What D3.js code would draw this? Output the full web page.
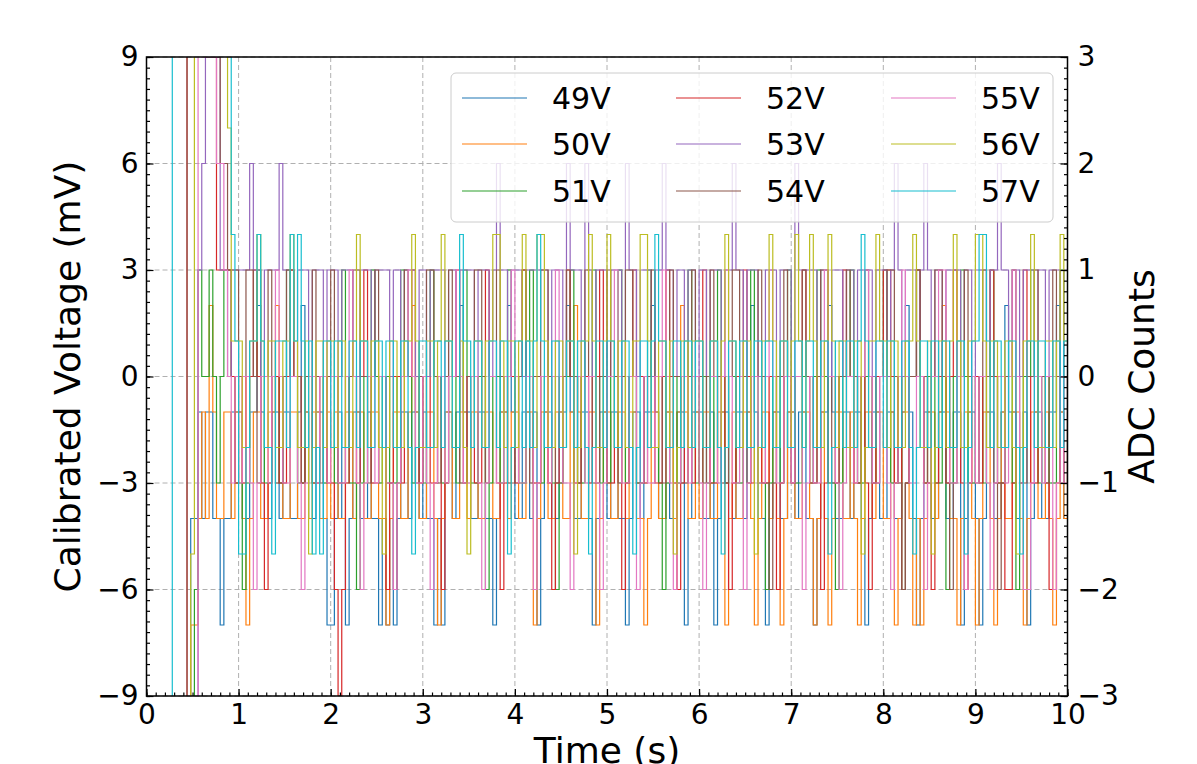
<!DOCTYPE html>
<html>
<head>
<meta charset="utf-8">
<script src="https://cdn.jsdelivr.net/npm/d3@7"></script>
<style>
  body { margin: 0; background: #fff; }
  svg { font-family: "DejaVu Sans", sans-serif; }
</style>
</head>
<body>
<div id="chart"></div>
<script>
// sample spacing of the recording, in seconds
const timeStep = 0.04;

const seriesLabels = ['49V', '50V', '51V', '52V', '53V', '54V', '55V', '56V', '57V'];
const seriesColors = ['#1f77b4', '#ff7f0e', '#2ca02c', '#d62728', '#9467bd',
                      '#8c564b', '#e377c2', '#bcbd22', '#17becf'];
// calibration offset (mV) added to 3 mV per ADC count
const offsetsMv = [-1, -1, 0, 0, 0, 0, 0, 1, 1];

const xTicks = [0, 1, 2, 3, 4, 5, 6, 7, 8, 9, 10];
const yTicksMv = [-9, -6, -3, 0, 3, 6, 9];
const yTicksAdc = [-3, -2, -1, 0, 1, 2, 3];

// ADC counts, one row per second
const adc49V = [
  -9,-9,-9,-9,-9,-9,-9,-9,-9,-9,-9,-9,-1,-1,0,-1,0,0,-1,-1,-2,-1,-1,0,0,
  0,-1,-1,0,0,1,0,-1,-1,0,0,-1,0,0,-1,-1,0,1,0,-1,-1,0,0,-1,-2,
  -2,-1,0,-1,-2,-1,0,0,-1,-1,0,-1,-1,-2,-1,-2,-1,-2,-1,0,0,-1,0,0,-1,
  0,-1,-1,-2,-1,-2,0,0,-1,0,1,0,0,-1,-1,0,0,-1,-1,-2,-1,0,0,1,0,
  -1,-1,0,0,-1,0,-2,-1,0,0,-1,-1,0,0,1,0,-1,-1,0,0,-1,-2,-1,0,0,
  -1,0,0,-1,-1,-2,-1,0,0,-1,0,0,1,0,-1,-1,0,-1,-1,0,0,-2,-1,0,0,
  0,-1,-1,0,-2,-1,0,0,-1,-1,0,0,-1,0,1,0,-1,-1,-2,-1,0,0,-1,-1,0,
  0,-1,0,0,-1,-1,-2,-1,0,0,1,0,-1,-1,0,0,-1,0,0,-1,-2,-1,0,0,-1,
  -1,0,0,-1,-1,0,1,0,-1,-2,-1,0,0,-1,-1,0,0,-1,-1,0,0,-2,-1,0,0,
  -1,-2,-1,0,0,-1,-1,0,1,0,0,-1,-1,0,-2,-1,0,0,-1,-1,0,0,1,0,-1,
  -1
];
const adc50V = [
  -9,-9,-9,-9,-9,-9,-9,-9,-9,-9,-9,-9,-2,-2,-1,0,-1,1,0,-1,-1,0,0,-1,0,
  0,-1,-2,-1,0,0,-1,-1,0,0,1,0,-1,-1,0,0,-1,-1,0,-1,0,0,-1,-1,0,
  -1,0,-1,-1,0,0,-1,0,0,-1,-1,0,0,-1,-1,-2,-1,0,0,-1,-1,0,1,0,-1,
  -1,0,0,-1,-2,-1,0,0,-1,-1,0,0,-1,0,0,-1,-1,0,0,-1,-1,0,0,-1,0,
  0,-1,-1,0,0,-2,-1,0,0,-1,-1,0,0,-1,-1,0,1,0,-1,-1,0,0,-2,-1,0,
  0,-1,-1,0,0,-1,0,0,-1,-1,-2,-1,0,0,-1,-1,0,0,-1,0,1,0,-1,-1,0,
  -1,0,0,-1,-1,0,0,-2,-1,0,-1,-1,0,0,-1,-2,-1,0,0,-1,0,-1,-2,-1,0,
  0,-1,-1,0,0,-1,-2,-1,0,-1,-2,-1,0,0,-1,-1,0,-1,-2,-1,0,0,-1,0,0,
  -1,-1,0,-2,-1,0,0,-1,-2,-1,-2,-1,0,0,-1,0,1,0,-1,-1,-2,-1,0,0,-1,
  -2,-1,0,0,-1,-2,-1,0,-1,-1,0,0,-1,-2,-1,0,0,-1,-1,0,-1,-2,-1,0,-1,
  0
];
const adc51V = [
  -9,-9,-9,-9,-9,-9,-9,-9,-9,-9,-9,-9,-9,-2,1,0,0,1,0,-1,0,1,1,0,-1,
  -1,-2,-1,0,0,1,0,-1,-1,0,0,-1,0,1,0,0,-1,-1,0,0,-1,0,0,-1,0,
  0,-1,0,1,0,-1,-1,-2,-1,0,0,1,0,-1,0,0,-1,-1,0,1,0,0,-1,0,0,
  -1,0,1,0,0,-1,-1,0,0,-1,0,1,0,-1,-1,0,0,-2,-1,0,0,-1,0,1,0,
  0,-1,-1,0,1,0,0,-1,0,0,-1,-2,-1,0,0,1,0,-1,-1,0,0,1,0,-1,0,
  -1,0,0,1,0,-1,0,0,-1,-1,0,1,0,0,-1,-2,-1,0,0,-1,0,0,1,0,-1,
  0,0,-1,-1,0,1,0,-1,0,0,-1,-1,0,0,1,0,-1,-1,-2,-1,0,0,-1,0,1,
  0,-1,-1,0,0,-1,0,1,0,0,-1,-1,-2,-1,0,0,1,0,-1,-1,0,0,-1,0,0,
  1,0,-1,-1,0,-2,-1,0,0,1,0,-1,0,0,-1,-1,0,-2,-1,0,0,1,0,-1,-1,
  0,0,-1,0,1,0,-1,-1,0,0,-1,-2,-1,0,0,1,0,-1,0,0,-1,-1,0,1,0,
  -1
];
const adc52V = [
  -9,-9,-9,-9,-9,-9,-9,-9,-9,-9,-9,9,9,9,9,9,9,9,3,1,1,1,1,0,-1,
  0,-1,0,0,1,0,-1,-2,-1,0,0,-1,-1,0,1,0,0,-1,0,0,-1,-1,0,0,-1,
  -1,-2,-3,-2,-1,0,0,-1,0,1,0,-1,-1,0,0,-2,-1,0,0,-1,0,0,1,0,-1,
  0,0,-1,-1,0,-2,-1,0,0,1,0,-1,0,0,-1,-1,0,1,0,0,-1,-2,-1,0,0,
  -1,0,1,0,0,-1,-1,0,0,-1,-2,-1,0,0,1,0,-1,-1,0,0,-1,0,0,1,0,
  -1,-1,0,0,-2,-1,0,1,0,0,-1,0,0,-1,-1,0,1,0,-1,-2,-1,0,0,-1,0,
  0,1,0,-1,-1,0,0,-1,-2,-1,0,0,1,0,-1,0,0,-1,-1,0,0,-2,-1,0,0,
  -1,0,0,1,0,-1,-1,0,-2,-1,0,0,-1,0,1,0,0,-1,-1,0,-1,-2,-1,0,0,
  1,1,0,-1,0,-2,-1,0,0,1,0,-1,-1,-2,-1,0,0,-1,0,1,0,-1,-2,-1,0,
  0,-1,0,0,1,0,-1,-1,-2,-2,-1,0,0,1,0,-1,-1,0,0,-1,-2,-2,-1,0,0,
  -1
];
const adc53V = [
  -9,-9,-9,-9,-9,-9,-9,-9,-9,-9,-9,-9,-9,-9,1,2,3,3,3,3,1,1,0,1,1,
  1,1,1,2,1,1,0,1,1,1,1,2,1,1,0,0,1,1,1,0,1,1,1,0,1,
  1,1,0,1,1,1,0,0,1,1,1,0,1,1,1,1,0,1,1,0,1,1,1,0,1,
  1,0,1,1,1,1,0,1,1,0,1,1,1,1,0,1,1,1,0,1,2,1,1,0,1,
  1,1,0,1,1,1,1,1,1,0,1,1,1,0,2,1,1,1,0,2,1,0,1,1,1,
  0,1,1,1,0,2,1,1,0,1,1,1,0,1,1,2,1,1,0,1,1,0,1,1,0,
  1,1,0,1,1,1,0,1,1,2,1,1,0,1,1,1,0,0,1,1,1,0,1,1,1,
  0,2,1,1,1,1,1,0,1,1,0,1,1,1,0,1,1,0,1,1,1,1,0,1,1,
  1,0,1,2,1,0,1,1,1,0,1,2,1,0,1,1,0,1,1,1,1,0,1,1,0,
  1,1,1,0,1,1,2,1,1,0,1,1,0,1,1,1,0,1,1,0,1,1,1,0,1,
  1
];
const adc54V = [
  -9,-9,-9,-9,-9,-9,-9,-9,-9,-9,-9,9,9,9,9,9,3,3,3,3,2,2,1,1,1,
  0,0,1,1,0,-1,0,0,1,0,-1,-1,0,1,1,0,0,-1,0,0,1,0,-1,0,0,
  1,0,-1,-1,0,0,1,1,0,0,-1,0,1,0,0,-1,-1,-2,-1,0,1,0,0,-1,0,
  0,1,1,0,-1,0,0,1,0,0,-1,-1,0,0,1,1,0,-1,0,0,1,0,0,-1,-1,
  0,0,1,0,-1,0,0,1,1,0,0,-1,-1,0,1,0,0,-1,0,1,0,-1,-1,0,0,
  1,0,0,-1,0,1,1,0,-1,-1,0,0,1,0,0,-1,0,1,0,0,-1,-1,0,1,0,
  0,-1,0,1,0,0,-1,-1,0,1,1,0,0,-1,0,0,1,0,-1,-2,-1,0,0,1,0,
  -1,0,0,1,0,0,-1,0,1,1,0,-1,-1,0,0,1,0,0,-1,0,1,0,-1,-1,0,
  0,1,1,0,-1,-2,-1,0,0,1,0,0,-1,0,1,1,0,-1,-2,-1,0,0,1,0,0,
  -1,0,1,0,0,-1,-2,-1,0,0,1,0,-1,-1,0,0,1,0,0,-1,0,1,0,-1,0,
  0
];
const adc55V = [
  -9,-9,-9,-9,-9,-9,-9,-9,-9,-9,-9,-9,-9,-9,9,3,3,3,3,2,2,1,0,-1,0,
  -1,0,0,-1,-2,-1,0,0,-1,0,1,0,-1,-1,0,0,-1,-2,-1,0,0,-1,0,0,-1,
  0,0,-1,-1,0,1,0,-1,-2,-1,0,0,-1,0,0,-1,-1,-2,-1,0,0,1,0,-1,-1,
  0,-1,-2,-1,0,0,-1,0,0,1,0,-1,-1,0,0,-1,-2,-1,0,0,-1,-1,0,0,1,
  0,-1,-1,0,0,-2,-1,0,0,-1,0,1,0,-1,-1,-2,-1,0,0,-1,0,0,-1,-2,-1,
  0,0,1,0,-1,-1,0,0,-2,-1,0,-1,-1,0,0,1,0,-1,-2,-1,0,0,-1,0,0,
  -1,-2,-1,0,0,-1,0,1,0,-1,-1,0,-2,-1,0,0,-1,-1,0,1,0,-1,-1,0,0,
  -1,0,0,-2,-1,0,-1,-1,0,1,0,0,-1,-2,-1,0,0,-1,0,0,1,0,-1,-1,0,
  0,-1,-2,-1,0,1,0,-1,-1,0,0,-2,-1,0,0,1,1,0,-1,-1,0,0,-2,-1,0,
  -1,0,0,-1,-2,-1,0,0,-1,0,1,0,-1,-2,-2,-1,0,0,-1,0,0,-2,-1,0,-1,
  0
];
const adc56V = [
  -9,-9,-9,-9,-9,-9,-9,-9,-9,-9,-9,-9,-2,9,9,9,9,9,9,9,9,9,2,0,0,
  0,-1,-1,0,0,1,0,-1,0,0,-1,-1,0,0,1,0,-1,-1,0,-2,-1,0,0,-1,0,
  0,-1,0,0,-1,-1,0,1,0,0,-1,0,0,-1,-2,-1,0,0,-1,-1,0,0,1,0,-1,
  -1,0,0,-1,0,1,0,0,-1,-1,0,-1,-2,-1,0,0,-1,0,0,1,1,0,-1,0,0,
  -1,0,1,0,0,-1,1,1,0,-1,-1,0,0,-1,0,0,-2,-1,0,0,1,0,-1,-1,0,
  1,0,-1,0,0,-1,-1,0,0,1,1,0,-1,-1,0,0,-1,0,-2,-1,0,0,-1,0,0,
  0,-1,-1,0,0,-1,0,1,0,0,-1,-1,0,0,-1,-2,-1,0,0,1,0,-1,0,0,-1,
  0,1,0,-1,0,1,0,-1,-1,0,1,0,-1,0,0,-1,-1,0,0,-2,-1,0,0,1,0,
  0,-1,0,0,-1,-1,0,0,1,0,-1,-1,0,-2,-1,0,0,-1,0,1,0,-1,-1,0,0,
  1,1,0,-1,0,0,-1,-1,0,0,-1,-2,-1,0,0,1,0,-1,-1,0,0,-1,0,1,0,
  0
];
const adc57V = [
  -9,-9,-9,-9,-9,-9,-9,9,9,9,9,9,9,9,9,9,9,9,9,9,9,9,9,1,0,
  -2,-2,-1,0,0,1,0,-1,-1,-2,0,0,0,-1,1,0,1,0,-1,0,-2,-1,-2,0,0,
  -1,0,0,-1,-1,0,0,-1,0,0,-1,-1,0,0,-1,0,0,-1,-1,0,0,-1,-2,-1,0,
  0,-1,-1,0,0,-1,0,0,-1,-1,1,0,0,-1,0,0,-1,-1,0,0,-1,0,0,-2,-1,
  0,0,-1,0,-1,0,1,0,-1,-1,0,0,-1,-1,0,0,-1,0,0,-1,-2,-1,0,0,-1,
  0,0,-1,-1,0,0,-1,-2,-1,0,0,-1,0,1,0,0,-1,-1,0,0,-1,0,0,-1,0,
  0,-1,-1,0,0,-1,-2,-1,0,0,-1,0,0,-1,-1,0,0,-1,0,0,-1,-1,0,0,-1,
  -1,0,0,-1,0,0,-1,-1,0,0,-2,-1,0,0,-1,0,0,-1,0,1,0,-1,-1,0,0,
  -1,0,0,-1,-1,0,0,-1,-2,-1,0,0,-1,0,0,-1,0,0,-1,-1,0,0,-2,-1,0,
  0,1,1,0,-1,0,0,-1,-1,0,0,-1,-2,-1,0,0,-1,0,0,-1,-1,0,0,-1,0,
  0
];
const adcSeries = [adc49V, adc50V, adc51V, adc52V, adc53V, adc54V, adc55V, adc56V, adc57V];

const width = 1197, height = 764;
const plotLeft = 146.5, plotRight = 1067.5, plotTop = 57, plotBottom = 696;
const tickFont = 28, labelFont = 36, legendFont = 30;

const svg = d3.select('#chart').append('svg')
  .attr('width', width)
  .attr('height', height);

const x = d3.scaleLinear().domain([0, 10]).range([plotLeft, plotRight]);
const y = d3.scaleLinear().domain([-9, 9]).range([plotBottom, plotTop]);
const yAdc = d3.scaleLinear().domain([-3, 3]).range([plotBottom, plotTop]);

svg.append('clipPath').attr('id', 'plot-clip')
  .append('rect')
  .attr('x', plotLeft).attr('y', plotTop)
  .attr('width', plotRight - plotLeft).attr('height', plotBottom - plotTop);

// grid
const grid = svg.append('g').attr('stroke', '#b0b0b0').attr('stroke-width', 1)
  .attr('stroke-dasharray', '5,3');
grid.selectAll('.gx').data(xTicks).enter().append('line')
  .attr('x1', d => x(d)).attr('x2', d => x(d))
  .attr('y1', plotTop).attr('y2', plotBottom);
grid.selectAll('.gy').data(yTicksMv).enter().append('line')
  .attr('x1', plotLeft).attr('x2', plotRight)
  .attr('y1', d => y(d)).attr('y2', d => y(d));

// series
const line = d3.line()
  .x((d, i) => x(i * timeStep))
  .y(d => y(d))
  .curve(d3.curveStepAfter);

const plot = svg.append('g').attr('clip-path', 'url(#plot-clip)');
adcSeries.forEach(function(counts, k) {
  let mv = counts.map(c => c * 3 + offsetsMv[k]);
  plot.append('path')
    .attr('d', line(mv))
    .attr('fill', 'none')
    .attr('stroke', seriesColors[k])
    .attr('stroke-width', 1.2);
});

// axes
function styleAxis(g) {
  g.attr('font-size', tickFont).attr('font-family', '"DejaVu Sans", sans-serif');
  g.select('.domain').remove();
  g.selectAll('line').attr('stroke', '#000').attr('stroke-width', 1.2);
}

svg.append('g').attr('transform', `translate(0,${plotBottom})`)
  .call(d3.axisBottom(x).tickValues(d3.range(0, 10.01, 0.1)).tickSize(-3.5).tickFormat(''))
  .call(styleAxis);
svg.append('g').attr('transform', `translate(0,${plotBottom})`)
  .call(d3.axisBottom(x).tickValues(xTicks).tickSize(-7).tickPadding(8).tickFormat(d3.format('d')))
  .call(styleAxis);

svg.append('g').attr('transform', `translate(${plotLeft},0)`)
  .call(d3.axisLeft(y).tickValues(d3.range(-9, 9.01, 0.3)).tickSize(-3.5).tickFormat(''))
  .call(styleAxis);
svg.append('g').attr('transform', `translate(${plotLeft},0)`)
  .call(d3.axisLeft(y).tickValues(yTicksMv).tickSize(-7).tickPadding(8).tickFormat(d3.format('d')))
  .call(styleAxis);

svg.append('g').attr('transform', `translate(${plotRight},0)`)
  .call(d3.axisRight(yAdc).tickValues(d3.range(-3, 3.01, 0.1)).tickSize(-3.5).tickFormat(''))
  .call(styleAxis);
svg.append('g').attr('transform', `translate(${plotRight},0)`)
  .call(d3.axisRight(yAdc).tickValues(yTicksAdc).tickSize(-7).tickPadding(10).tickFormat(d3.format('d')))
  .call(styleAxis);

// frame
svg.append('rect')
  .attr('x', plotLeft).attr('y', plotTop)
  .attr('width', plotRight - plotLeft).attr('height', plotBottom - plotTop)
  .attr('fill', 'none').attr('stroke', '#000').attr('stroke-width', 1.5);

// axis labels
svg.append('text')
  .attr('x', (plotLeft + plotRight) / 2).attr('y', 763)
  .attr('text-anchor', 'middle').attr('font-size', labelFont)
  .text('Time (s)');
svg.append('text')
  .attr('transform', `translate(80,${(plotTop + plotBottom) / 2}) rotate(-90)`)
  .attr('text-anchor', 'middle').attr('font-size', labelFont)
  .text('Calibrated Voltage (mV)');
svg.append('text')
  .attr('transform', `translate(1154,${(plotTop + plotBottom) / 2}) rotate(-90)`)
  .attr('text-anchor', 'middle').attr('font-size', labelFont)
  .text('ADC Counts');

// legend, 3 columns filled top to bottom
const legend = svg.append('g');
legend.append('rect')
  .attr('x', 451).attr('y', 73).attr('width', 602).attr('height', 149)
  .attr('rx', 5)
  .attr('fill', '#fff').attr('fill-opacity', 0.8)
  .attr('stroke', '#cccccc').attr('stroke-width', 1);
const colX = [462, 676, 891];
const rowY = [98, 144, 191];
seriesLabels.forEach(function(lab, k) {
  let cx = colX[Math.floor(k / 3)];
  let cy = rowY[k % 3];
  legend.append('line')
    .attr('x1', cx).attr('x2', cx + 65)
    .attr('y1', cy).attr('y2', cy)
    .attr('stroke', seriesColors[k]).attr('stroke-width', 1.2);
  legend.append('text')
    .attr('x', cx + 90).attr('y', cy).attr('dy', '0.36em')
    .attr('font-size', legendFont)
    .text(lab);
});
</script>
</body>
</html>
